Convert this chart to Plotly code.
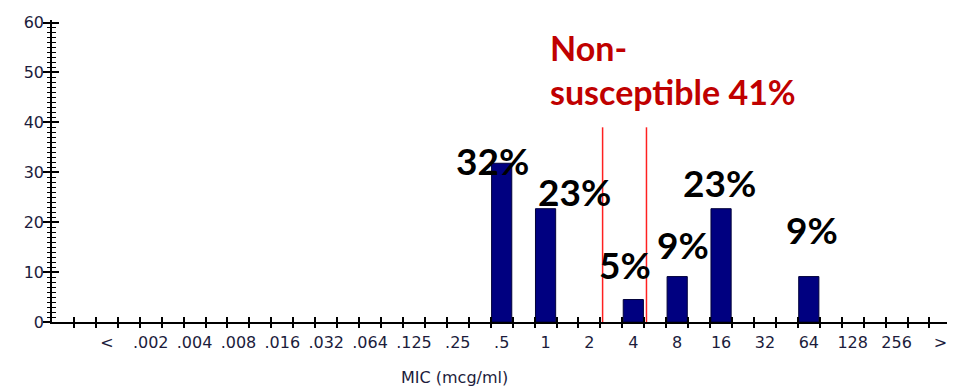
import plotly.graph_objects as go

# ---- data ----
categories = ["<", ".002", ".004", ".008", ".016", ".032", ".064", ".125", ".25", ".5",
              "1", "2", "4", "8", "16", "32", "64", "128", "256", ">"]
percent = [None, None, None, None, None, None, None, None, None, 31.8,
           22.7, None, 4.5, 9.1, 22.7, None, 9.1, None, None, None]
bar_labels = ["32%", "23%", "5%", "9%", "23%", "9%"]
y_ticks = [0, 10, 20, 30, 40, 50, 60]
breakpoints = [11.3, 12.3]          # red breakpoint lines (category units)
breakpoint_top = 39.0
red_lines = ["Non-", "susceptible 41%"]
x_title = "MIC (mcg/ml)"

# ---- styling / placement ----
label_dx = [-0.21, 0.65, -0.19, 0.14, -0.04, 0.08]
label_y = [32.4, 26.2, 11.6, 15.6, 27.9, 18.6]
red_text_x = 10.05
red_text_y = 50.5
x_title_pos = 7.92

idx = list(range(len(categories)))
boundaries = [i * 0.5 - 0.75 for i in range(40)]
xr = [-1.25, 19.15]
yr = [0, 60.5]
axfont = dict(family="DejaVu Sans", size=16, color="#1c1c3c")

fig = go.Figure()
fig.add_trace(go.Bar(x=idx, y=percent, width=0.46,
                     marker=dict(color="#000080", line=dict(color="#00003a", width=1)),
                     xaxis="x", yaxis="y", showlegend=False, hoverinfo="skip"))
fig.add_trace(go.Scatter(x=[0], y=[0], mode="markers", marker=dict(opacity=0),
                         xaxis="x2", yaxis="y2", showlegend=False, hoverinfo="skip"))
fig.add_trace(go.Scatter(x=[0], y=[0], mode="markers", marker=dict(opacity=0),
                         xaxis="x3", yaxis="y3", showlegend=False, hoverinfo="skip"))

# bar value labels
nonzero = [i for i, v in enumerate(percent) if v]
for k, i in enumerate(nonzero):
    fig.add_annotation(x=i + label_dx[k], y=label_y[k], text=bar_labels[k],
                       xref="x", yref="y", showarrow=False, xanchor="center", yanchor="middle",
                       font=dict(family="Lato", size=37, color="black", weight="bold"))

fig.add_annotation(x=red_text_x, y=red_text_y, text="<br>".join(red_lines), xref="x", yref="y",
                   showarrow=False, xanchor="left", yanchor="middle", align="left",
                   font=dict(family="Lato", size=34, color="#c00000", weight="bold"))

fig.add_annotation(x=x_title_pos, y=0, xref="x", yref="paper", text=x_title, showarrow=False,
                   xanchor="center", yanchor="middle", yshift=-55, font=axfont)

for bx in breakpoints:
    fig.add_shape(type="line", x0=bx, x1=bx, y0=0, y1=breakpoint_top, xref="x", yref="y",
                  line=dict(color="#ff2020", width=1.5))

common_x = dict(range=xr, showgrid=False, zeroline=False, fixedrange=True)
common_y = dict(range=yr, showgrid=False, zeroline=False, fixedrange=True)
fig.update_layout(
    width=956, height=381,
    margin=dict(l=44, r=17, t=5, b=67),
    paper_bgcolor="white", plot_bgcolor="white",
    xaxis=dict(**common_x, tickmode="array", tickvals=idx, ticktext=categories,
               ticks="outside", ticklen=5, tickcolor="rgba(0,0,0,0)",
               showline=True, linecolor="black", linewidth=1.5, tickfont=axfont),
    xaxis2=dict(**common_x, overlaying="x", anchor="y", side="bottom",
                tickmode="array", tickvals=boundaries, ticks="outside", ticklen=5,
                tickwidth=1.5, tickcolor="black", showticklabels=False, showline=False),
    xaxis3=dict(**common_x, overlaying="x", anchor="y", side="bottom",
                tickmode="array", tickvals=boundaries, ticks="inside", ticklen=5,
                tickwidth=1.5, tickcolor="black", showticklabels=False, showline=False),
    yaxis=dict(**common_y, tickmode="array", tickvals=y_ticks, ticks="outside", ticklen=3,
               tickwidth=1.5, tickcolor="black", showline=True, linecolor="black", linewidth=1.5,
               tickfont=axfont, ticklabeloverflow="allow",
               minor=dict(dtick=1, tick0=0, ticks="outside", ticklen=3.5, tickwidth=1.2,
                          tickcolor="black")),
    yaxis2=dict(**common_y, overlaying="y", anchor="x", side="left", tickmode="array",
                tickvals=y_ticks, ticks="inside", ticklen=6.5, tickwidth=1.5, tickcolor="black",
                showticklabels=False, showline=False,
                minor=dict(dtick=1, tick0=0, ticks="inside", ticklen=3.5, tickwidth=1.2,
                           tickcolor="black")),
    yaxis3=dict(**common_y, overlaying="y", anchor="x", side="left", tickmode="array",
                tickvals=y_ticks, ticks="outside", ticklen=8, tickwidth=1.5, tickcolor="black",
                showticklabels=False, showline=False),
)

fig.write_html("out.html")
